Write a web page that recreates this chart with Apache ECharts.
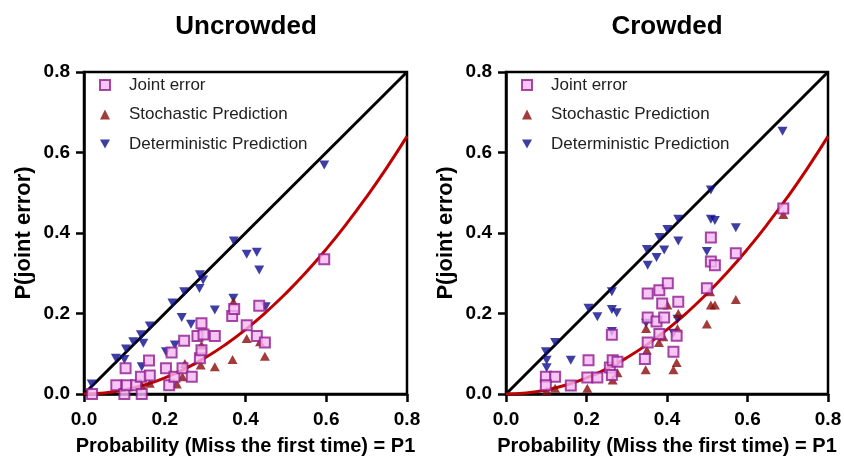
<!DOCTYPE html>
<html>
<head>
<meta charset="utf-8">
<script src="https://cdn.jsdelivr.net/npm/echarts@6/dist/echarts.min.js"></script>
<style>
html, body { margin: 0; padding: 0; background: #fff; }
#chart { width: 844px; height: 461px; }
</style>
</head>
<body>
<div id="chart"></div>
<script>
// 数据
var panelTitles = ['Uncrowded', 'Crowded'];
var seriesNames = ['Joint error', 'Stochastic Prediction', 'Deterministic Prediction'];

var leftJoint = [[0.02,0.0],[0.08,0.022],[0.10,0.0],[0.106,0.022],[0.129,0.022],[0.143,0.0],[0.141,0.043],[0.163,0.046],
	[0.103,0.064],[0.161,0.083],[0.203,0.064],[0.211,0.022],[0.224,0.043],[0.244,0.064],[0.267,0.043],[0.217,0.103],
	[0.248,0.132],[0.287,0.089],[0.291,0.109],[0.281,0.144],[0.296,0.148],[0.291,0.176],[0.324,0.144],[0.367,0.194],
	[0.372,0.211],[0.403,0.171],[0.428,0.144],[0.434,0.219],[0.448,0.128],[0.595,0.335]];
var leftStoch = [[0.143,0.022],[0.163,0.027],[0.23,0.025],[0.244,0.043],[0.25,0.076],[0.289,0.072],[0.291,0.122],
	[0.324,0.068],[0.368,0.086],[0.37,0.229],[0.403,0.138],[0.436,0.13],[0.448,0.094]];
var leftDet = [[0.019,0.025],[0.079,0.089],[0.10,0.086],[0.104,0.112],[0.122,0.13],[0.141,0.147],[0.147,0.126],
	[0.163,0.169],[0.143,0.068],[0.203,0.105],[0.225,0.122],[0.219,0.226],[0.242,0.19],[0.248,0.254],[0.265,0.173],
	[0.287,0.296],[0.295,0.283],[0.286,0.262],[0.324,0.209],[0.37,0.238],[0.371,0.38],[0.403,0.347],[0.428,0.352],
	[0.434,0.308],[0.45,0.217],[0.595,0.569]];

var rightJoint = [[0.099,0.043],[0.122,0.043],[0.099,0.022],[0.161,0.021],[0.202,0.041],[0.227,0.041],[0.205,0.084],
	[0.258,0.066],[0.265,0.084],[0.277,0.08],[0.263,0.047],[0.263,0.147],[0.345,0.087],[0.352,0.128],[0.381,0.149],
	[0.352,0.19],[0.374,0.18],[0.393,0.19],[0.352,0.25],[0.381,0.258],[0.388,0.225],[0.402,0.275],[0.428,0.229],
	[0.424,0.145],[0.416,0.105],[0.499,0.263],[0.509,0.389],[0.509,0.329],[0.519,0.32],[0.571,0.35],[0.689,0.461]];
var rightStoch = [[0.101,0.008],[0.122,0.014],[0.202,0.014],[0.265,0.035],[0.277,0.053],[0.348,0.163],[0.35,0.109],
	[0.347,0.06],[0.38,0.128],[0.391,0.142],[0.401,0.221],[0.428,0.2],[0.426,0.163],[0.424,0.078],[0.416,0.06],
	[0.499,0.174],[0.509,0.221],[0.519,0.221],[0.507,0.254],[0.571,0.235],[0.689,0.446]];
var rightDet = [[0.099,0.105],[0.101,0.084],[0.101,0.065],[0.122,0.128],[0.161,0.084],[0.205,0.213],[0.227,0.192],
	[0.263,0.254],[0.263,0.21],[0.275,0.202],[0.263,0.155],[0.348,0.176],[0.35,0.359],[0.352,0.32],[0.374,0.339],
	[0.393,0.358],[0.381,0.389],[0.401,0.409],[0.428,0.434],[0.428,0.38],[0.509,0.507],[0.509,0.434],[0.519,0.431],
	[0.571,0.413],[0.499,0.354],[0.426,0.186],[0.416,0.151],[0.687,0.653]];

// 参考线 y = x 与拟合曲线
var identityLine = [[0,0],[0.8,0.8]];
var curveLine = [[0,0],[0.05,0.0025],[0.1,0.01],[0.15,0.0225],[0.2,0.04],[0.25,0.0625],[0.3,0.09],[0.35,0.1225],
	[0.4,0.16],[0.45,0.2025],[0.5,0.25],[0.55,0.3025],[0.6,0.36],[0.65,0.4225],[0.7,0.49],[0.75,0.5625],[0.8,0.64]];

var font = '"Liberation Sans", Arial, sans-serif';
var downTri = 'path://M0,0 L10,0 L5,9 Z';

var chart = echarts.init(document.getElementById('chart'), null, { renderer: 'canvas' });

function makeAxis(type, idx) {
	var isX = type === 'x';
	return {
		type: 'value',
		gridIndex: idx,
		min: 0,
		max: 0.8,
		interval: 0.2,
		name: isX ? 'Probability (Miss the first time) = P1' : 'P(joint error)',
		nameLocation: 'middle',
		nameGap: isX ? 42 : 49,
		nameTextStyle: { fontFamily: font, fontWeight: 'bold', fontSize: isX ? 20 : 22, color: '#000' },
		axisLine: { show: true, onZero: false, lineStyle: { color: '#000', width: 2.5 } },
		axisTick: { show: true, length: 8, lineStyle: { color: '#000', width: 2.5 } },
		axisLabel: {
			margin: isX ? 16 : 14,
			fontFamily: font, fontWeight: 'bold', fontSize: 19, color: '#000',
			formatter: function(v) { return v.toFixed(1); }
		},
		splitLine: { show: false }
	};
}

function makeLegend(left) {
	return {
		orient: 'vertical',
		left: left,
		top: 71,
		itemWidth: 10,
		itemHeight: 10,
		itemGap: 11.5,
		data: seriesNames,
		textStyle: { fontFamily: font, fontSize: 17, color: '#222', lineHeight: 18, padding: [0, 0, 0, 14] }
	};
}

function panelSeries(idx, joint, stoch, det) {
	return [
		{
			type: 'line', xAxisIndex: idx, yAxisIndex: idx, data: identityLine,
			symbol: 'none', lineStyle: { color: '#000', width: 3 }, z: 1, silent: true
		},
		{
			type: 'line', xAxisIndex: idx, yAxisIndex: idx, data: curveLine, smooth: true,
			symbol: 'none', lineStyle: { color: '#c00000', width: 3 }, z: 1, silent: true
		},
		{
			name: seriesNames[2], type: 'scatter', xAxisIndex: idx, yAxisIndex: idx, data: det,
			symbol: downTri, symbolSize: [10, 9], itemStyle: { color: '#0d0d8c' }, z: 2
		},
		{
			name: seriesNames[1], type: 'scatter', xAxisIndex: idx, yAxisIndex: idx, data: stoch,
			symbol: 'triangle', symbolSize: [10, 9], itemStyle: { color: '#8b0a0a' }, z: 3
		},
		{
			name: seriesNames[0], type: 'scatter', xAxisIndex: idx, yAxisIndex: idx, data: joint,
			symbol: 'rect', symbolSize: 10,
			itemStyle: { color: '#f6b8f2', borderColor: '#8e1c8e', borderWidth: 2 }, z: 4
		}
	];
}

chart.setOption({
	animation: false,
	backgroundColor: '#fff',
	title: [
		{ text: panelTitles[0], left: 241, top: 9, textAlign: 'center',
			textStyle: { fontFamily: font, fontWeight: 'bold', fontSize: 26, color: '#000' } },
		{ text: panelTitles[1], left: 662, top: 9, textAlign: 'center',
			textStyle: { fontFamily: font, fontWeight: 'bold', fontSize: 26, color: '#000' } }
	],
	legend: [makeLegend(94), makeLegend(516)],
	grid: [
		{ left: 84, right: 437, top: 72, bottom: 67, outerBoundsMode: 'none', containLabel: false,
			show: true, borderColor: '#000', borderWidth: 2.5, backgroundColor: 'transparent' },
		{ left: 506, right: 16, top: 72, bottom: 67, outerBoundsMode: 'none', containLabel: false,
			show: true, borderColor: '#000', borderWidth: 2.5, backgroundColor: 'transparent' }
	],
	xAxis: [makeAxis('x', 0), makeAxis('x', 1)],
	yAxis: [makeAxis('y', 0), makeAxis('y', 1)],
	series: panelSeries(0, leftJoint, leftStoch, leftDet).concat(panelSeries(1, rightJoint, rightStoch, rightDet))
});
</script>
</body>
</html>
